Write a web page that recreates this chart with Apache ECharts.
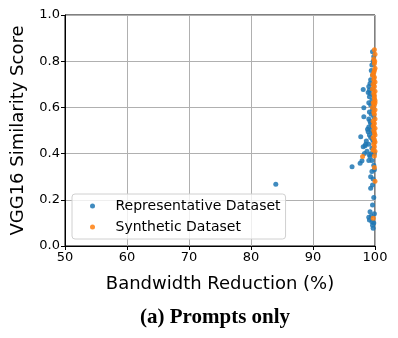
<!DOCTYPE html>
<html><head><meta charset="utf-8">
<script src="https://cdn.jsdelivr.net/npm/echarts@6/dist/echarts.min.js"></script>
<style>html,body{margin:0;padding:0;background:#fff}#c{width:398px;height:338px}</style>
</head><body><div id="c"></div>
<script>
const xTicks = [50, 60, 70, 80, 90, 100];
const yTicks = [0.0, 0.2, 0.4, 0.6, 0.8, 1.0];
const representative = [
 [96.3,0.343],[97.7,0.473],[98.1,0.678],[98.2,0.599],[98.2,0.560],[97.6,0.358],[97.9,0.369],
 [98.1,0.430],[98.4,0.434],[99.3,0.250],[99.6,0.264],[99.6,0.177],[99.2,0.148],[99.1,0.113],
 [99.5,0.105],[99.7,0.077],[98.8,0.505],[98.9,0.495],[99.5,0.322],[99.2,0.387],[99.5,0.423],
 [99.6,0.841],[99.5,0.784],[99.2,0.704],[99.1,0.646],[99.3,0.531],[84.0,0.267],
 [99.0,0.690],[99.1,0.675],[98.9,0.665],[99.2,0.660],[99.0,0.620],[99.3,0.610],[99.1,0.580],
 [99.4,0.570],[99.0,0.550],[99.2,0.540],[99.0,0.515],[99.4,0.500],[99.1,0.480],[99.3,0.470],
 [99.6,0.460],[99.0,0.440],[99.4,0.400],[98.7,0.410],[99.5,0.370],[99.8,0.350],[99.3,0.300],
 [99.7,0.290],[99.8,0.820],[99.7,0.800],[99.4,0.760],[99.6,0.740],[99.3,0.720],[99.7,0.700],
 [99.6,0.680],[99.8,0.650],[99.5,0.630],[99.7,0.600],[99.6,0.590],[99.8,0.560],[99.5,0.520],
 [99.7,0.490],[99.8,0.450],[99.9,0.400],[99.9,0.330],[99.8,0.210],[99.4,0.130],[99.8,0.100],
 [99.6,0.090],[99.9,0.140],[99.0,0.125],[98.5,0.440],[98.6,0.455],[98.3,0.400],[99.1,0.395],
 [99.0,0.370]
];
const synthetic = [
 [98.0,0.387],[99.7,0.416],[99.7,0.120],[99.9,0.850],[100,0.830],[99.8,0.810],[99.9,0.790],
 [100,0.770],[99.8,0.750],[99.9,0.730],[100,0.710],[99.7,0.700],[99.9,0.690],[100,0.670],
 [99.8,0.660],[99.9,0.640],[100,0.630],[99.7,0.620],[99.9,0.610],[100,0.590],[99.8,0.580],
 [99.9,0.570],[100,0.550],[99.7,0.540],[99.9,0.530],[100,0.510],[99.8,0.500],[99.9,0.490],
 [100,0.480],[99.7,0.470],[99.9,0.460],[100,0.450],[99.8,0.440],[99.9,0.430],[100,0.410],
 [99.9,0.390],[99.9,0.340],[100,0.280],[99.9,0.650],[99.8,0.720],[99.6,0.600],[99.6,0.680],
 [99.9,0.760],[99.95,0.800],[99.6,0.740],[100,0.620],[99.7,0.520]
];
const seriesNames = ['Representative Dataset', 'Synthetic Dataset'];
const colors = ['#1f77b4', '#ff7f0e'];

const chart = echarts.init(document.getElementById('c'), null, {renderer:'canvas'});
const font = 'DejaVu Sans';
chart.setOption({
  animation: false,
  backgroundColor: '#fff',
  grid: {left: 65, right: 23, top: 15, bottom: 92, show: true, borderColor: '#000', borderWidth: 1, backgroundColor: 'transparent'},
  xAxis: {
    type: 'value', min: xTicks[0], max: xTicks[xTicks.length-1], interval: 10,
    name: 'Bandwidth Reduction (%)', nameLocation: 'middle', nameGap: 29,
    nameTextStyle: {fontFamily: font, fontSize: 18, color: '#000'},
    axisLine: {show: true, onZero: false, lineStyle: {color: '#000', width: 1}},
    axisTick: {show: true, length: 4, lineStyle: {color: '#000'}},
    axisLabel: {fontFamily: font, fontSize: 13, color: '#000', margin: 5},
    splitLine: {show: true, lineStyle: {color: '#b0b0b0', width: 1}}
  },
  yAxis: {
    type: 'value', min: yTicks[0], max: yTicks[yTicks.length-1], interval: 0.2,
    name: 'VGG16 Similarity Score', nameLocation: 'middle', nameGap: 38,
    nameTextStyle: {fontFamily: font, fontSize: 18, color: '#000'},
    axisLine: {show: true, onZero: false, lineStyle: {color: '#000', width: 1}},
    axisTick: {show: true, length: 4, lineStyle: {color: '#000'}},
    axisLabel: {fontFamily: font, fontSize: 13, color: '#000', margin: 5, formatter: v => v.toFixed(1)},
    splitLine: {show: true, lineStyle: {color: '#b0b0b0', width: 1}}
  },
  legend: {
    orient: 'vertical', left: 72, top: 194, itemGap: 5,
    padding: [4, 5, 4, 18],
    backgroundColor: 'rgba(255,255,255,0.8)', borderColor: '#d0d0d0', borderWidth: 1, borderRadius: 3,
    itemWidth: 10, itemHeight: 5, icon: 'circle',
    textStyle: {fontFamily: font, fontSize: 14, lineHeight: 16, color: '#000', padding: [0, 0, 0, 13]},
    data: seriesNames
  },
  series: [
    {name: seriesNames[0], type: 'scatter', data: representative, symbolSize: 5,
     itemStyle: {color: colors[0], opacity: 0.85}, z: 2},
    {name: seriesNames[1], type: 'scatter', data: synthetic, symbolSize: 5,
     itemStyle: {color: colors[1], opacity: 0.85}, z: 3}
  ],
  graphic: [{
    type: 'text', left: 140, top: 307,
    style: {text: '(a) Prompts only', font: 'bold 21px "Liberation Serif", "Times New Roman", serif', fill: '#000'}
  }]
});
</script></body></html>
